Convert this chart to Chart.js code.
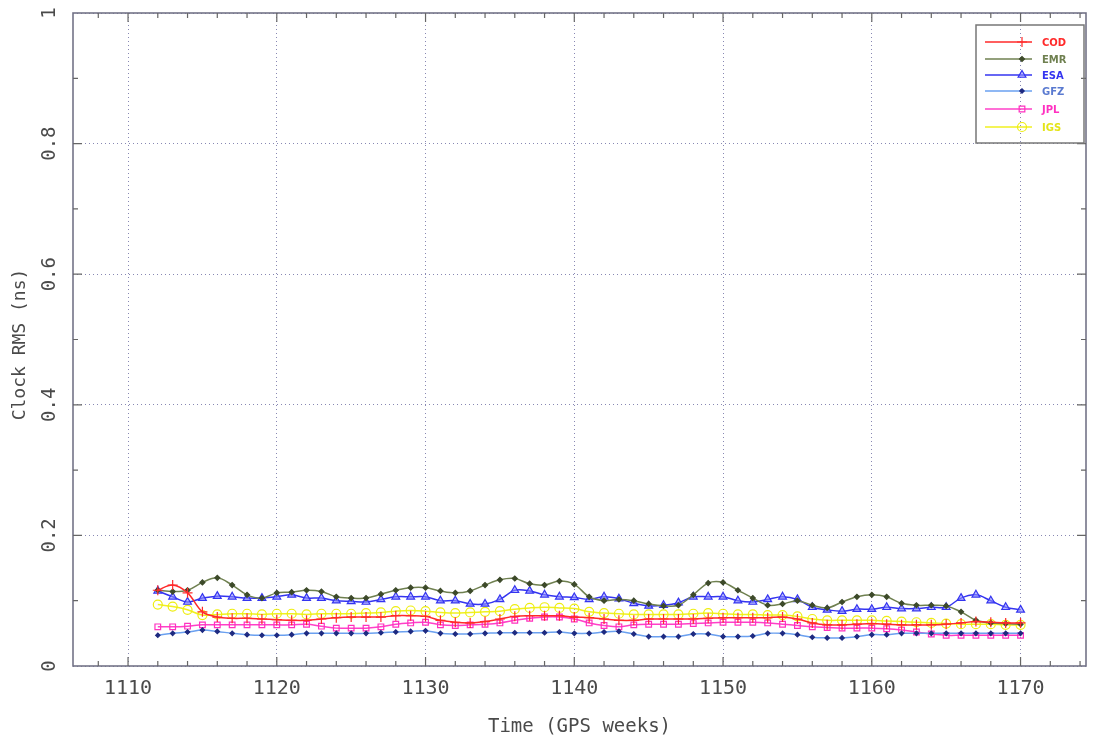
<!DOCTYPE html>
<html>
<head>
<meta charset="utf-8">
<script src="https://cdn.jsdelivr.net/npm/chart.js@4.4.1/dist/chart.umd.min.js"></script>
<style>
html,body{margin:0;padding:0;background:#fff;}
#wrap{width:1096px;height:738px;position:relative;}
</style>
</head>
<body>
<div id="wrap"><canvas id="c" width="1096" height="738"></canvas></div>
<script>
const weeks = [1112,1113,1114,1115,1116,1117,1118,1119,1120,1121,1122,1123,1124,1125,1126,1127,1128,1129,1130,1131,1132,1133,1134,1135,1136,1137,1138,1139,1140,1141,1142,1143,1144,1145,1146,1147,1148,1149,1150,1151,1152,1153,1154,1155,1156,1157,1158,1159,1160,1161,1162,1163,1164,1165,1166,1167,1168,1169,1170];

const cod = [0.116,0.124,0.112,0.083,0.075,0.073,0.073,0.072,0.071,0.070,0.070,0.072,0.074,0.075,0.075,0.075,0.077,0.077,0.076,0.070,0.067,0.066,0.068,0.072,0.076,0.077,0.077,0.077,0.075,0.074,0.072,0.070,0.070,0.072,0.072,0.072,0.072,0.073,0.074,0.074,0.074,0.074,0.075,0.072,0.066,0.063,0.063,0.064,0.065,0.064,0.063,0.063,0.063,0.064,0.066,0.068,0.067,0.066,0.066];
const emr = [0.116,0.114,0.116,0.128,0.135,0.124,0.109,0.104,0.112,0.113,0.116,0.114,0.106,0.104,0.104,0.110,0.116,0.120,0.120,0.115,0.112,0.115,0.124,0.132,0.134,0.126,0.124,0.130,0.125,0.106,0.100,0.102,0.100,0.095,0.092,0.093,0.109,0.127,0.128,0.116,0.104,0.093,0.095,0.100,0.093,0.089,0.098,0.106,0.109,0.106,0.096,0.093,0.093,0.092,0.083,0.070,0.066,0.065,0.064];
const esa = [0.115,0.106,0.098,0.104,0.107,0.106,0.104,0.104,0.106,0.109,0.104,0.104,0.100,0.099,0.098,0.102,0.106,0.106,0.106,0.100,0.100,0.095,0.095,0.102,0.116,0.115,0.109,0.106,0.105,0.102,0.106,0.103,0.096,0.092,0.093,0.097,0.106,0.106,0.106,0.100,0.098,0.102,0.106,0.102,0.090,0.086,0.084,0.087,0.087,0.090,0.088,0.088,0.090,0.090,0.104,0.109,0.100,0.090,0.086];
const gfz = [0.047,0.050,0.052,0.055,0.053,0.050,0.048,0.047,0.047,0.048,0.050,0.050,0.050,0.050,0.050,0.051,0.052,0.053,0.054,0.050,0.049,0.049,0.050,0.051,0.051,0.051,0.051,0.052,0.050,0.050,0.052,0.053,0.049,0.045,0.045,0.045,0.049,0.049,0.045,0.045,0.046,0.050,0.050,0.048,0.044,0.043,0.043,0.045,0.048,0.048,0.050,0.050,0.050,0.050,0.050,0.050,0.050,0.050,0.050];
const jpl = [0.060,0.060,0.061,0.063,0.063,0.063,0.063,0.063,0.063,0.063,0.064,0.061,0.058,0.058,0.058,0.060,0.064,0.066,0.067,0.063,0.062,0.063,0.064,0.066,0.070,0.073,0.075,0.075,0.072,0.066,0.062,0.060,0.063,0.064,0.064,0.064,0.065,0.066,0.067,0.067,0.067,0.066,0.064,0.062,0.060,0.059,0.058,0.058,0.058,0.057,0.055,0.052,0.049,0.047,0.047,0.047,0.047,0.047,0.047];
const igs = [0.094,0.091,0.086,0.078,0.079,0.080,0.080,0.079,0.080,0.080,0.079,0.080,0.080,0.080,0.081,0.082,0.084,0.085,0.084,0.082,0.081,0.082,0.083,0.084,0.087,0.089,0.090,0.089,0.088,0.083,0.081,0.080,0.079,0.079,0.079,0.079,0.080,0.081,0.080,0.079,0.079,0.078,0.078,0.076,0.072,0.070,0.070,0.070,0.070,0.069,0.068,0.067,0.066,0.065,0.064,0.064,0.064,0.063,0.063];

const seriesNames = ['COD','EMR','ESA','GFZ','JPL','IGS'];
const xTicks = [1110,1120,1130,1140,1150,1160,1170];
const yTicks = [0,0.2,0.4,0.6,0.8,1];
const yTickLabels = ['0','0.2','0.4','0.6','0.8','1'];
const xTitle = 'Time (GPS weeks)';
const yTitle = 'Clock RMS (ns)';

const styles = [
  {data:cod, color:'#ff2a2a', pColor:'#ff2a2a', pFill:'#ff2a2a', ps:'cross', r:5, text:'#ff2a2a'},
  {data:emr, color:'#6f8050', pColor:'#3d4a2a', pFill:'#3d4a2a', ps:'rectRot', r:2.5, text:'#6f8050'},
  {data:esa, color:'#3434f0', pColor:'#3434f0', pFill:'rgba(140,140,255,0.6)', ps:'triangle', r:4.5, text:'#3434f0'},
  {data:gfz, color:'#6aa0f0', pColor:'#1e2a80', pFill:'#1e2a80', ps:'rectRot', r:2.2, text:'#5a7ad0'},
  {data:jpl, color:'#ff40c8', pColor:'#ff30c0', pFill:'rgba(255,255,255,0)', ps:'rect', r:4, text:'#ff30c0'},
  {data:igs, color:'#f0f020', pColor:'#eeee10', pFill:'rgba(255,255,255,0)', ps:'circle', r:4.5, text:'#e4e418'}
];

const datasets = styles.map((s,i)=>({
  label: seriesNames[i],
  data: weeks.map((w,k)=>({x:w, y:s.data[k]})),
  borderColor: s.color,
  borderWidth: 1.5,
  pointStyle: s.ps,
  pointRadius: s.r,
  pointBorderColor: s.pColor,
  pointBackgroundColor: s.pFill,
  pointBorderWidth: 1.2,
  tension: 0.35,
  fill: false
}));

const TXT = '#4a4a4a';
const MONO = '"DejaVu Sans Mono", "Liberation Mono", monospace';

const framePlugin = {
  id: 'frame',
  afterDatasetsDraw(chart) {
    const {ctx, chartArea: a, scales} = chart;
    const xs = scales.x, ys = scales.y;
    ctx.save();
    ctx.strokeStyle = '#747488';
    ctx.lineWidth = 1.6;
    ctx.strokeRect(a.left, a.top, a.right - a.left, a.bottom - a.top);
    ctx.lineWidth = 1.2;
    ctx.strokeStyle = '#666';
    for (let w = 1108; w <= 1174; w += 2) {
      const px = xs.getPixelForValue(w);
      const len = (w % 10 === 0) ? 9 : 5;
      ctx.beginPath();
      ctx.moveTo(px, a.bottom); ctx.lineTo(px, a.bottom - len);
      ctx.moveTo(px, a.top); ctx.lineTo(px, a.top + len);
      ctx.stroke();
    }
    for (let k = 1; k < 10; k++) {
      const v = k / 10;
      const py = ys.getPixelForValue(v);
      const len = (k % 2 === 0) ? 9 : 5;
      ctx.beginPath();
      ctx.moveTo(a.left, py); ctx.lineTo(a.left + len, py);
      ctx.moveTo(a.right, py); ctx.lineTo(a.right - len, py);
      ctx.stroke();
    }
    ctx.fillStyle = TXT;
    ctx.font = '19px ' + MONO;
    ctx.textAlign = 'center';
    ctx.textBaseline = 'middle';
    yTicks.forEach((v, i) => {
      const py = ys.getPixelForValue(v);
      ctx.save();
      ctx.translate(a.left - 23, py);
      ctx.rotate(-Math.PI / 2);
      ctx.fillText(yTickLabels[i], 0, 0);
      ctx.restore();
    });
    ctx.save();
    ctx.font = '18px ' + MONO;
    ctx.translate(20, (a.top + a.bottom) / 2 + 5);
    ctx.rotate(-Math.PI / 2);
    ctx.fillText(yTitle, 0, 0);
    ctx.restore();

    // legend
    const lx = 976, ly = 25, lw = 108, lh = 118;
    ctx.strokeStyle = '#777';
    ctx.lineWidth = 1.5;
    ctx.strokeRect(lx, ly, lw, lh);
    const rows = [42, 59, 75, 91, 109, 127];
    ctx.font = 'bold 10px "DejaVu Sans", sans-serif';
    ctx.textAlign = 'left';
    chart.data.datasets.forEach((ds, i) => {
      const y = rows[i];
      ctx.strokeStyle = ds.borderColor;
      ctx.lineWidth = 1.5;
      ctx.beginPath();
      ctx.moveTo(lx + 9, y); ctx.lineTo(lx + 56, y);
      ctx.stroke();
      ctx.fillStyle = ds.pointBackgroundColor;
      ctx.strokeStyle = ds.pointBorderColor;
      ctx.lineWidth = 1.2;
      Chart.helpers.drawPoint(ctx, {pointStyle: ds.pointStyle, radius: ds.pointRadius, rotation: 0, borderWidth: 1.2}, lx + 46, y);
      ctx.fillStyle = styles[i].text;
      ctx.fillText(ds.label, lx + 66, y + 1);
    });
    ctx.restore();
  }
};

new Chart(document.getElementById('c'), {
  type: 'line',
  data: { datasets },
  options: {
    responsive: false,
    animation: false,
    layout: { padding: { top: 13, right: 10, left: 0, bottom: 0 } },
    plugins: { legend: { display: false }, tooltip: { enabled: false } },
    scales: {
      x: {
        type: 'linear',
        min: 1106.3,
        max: 1174.4,
        afterBuildTicks: s => { s.ticks = xTicks.map(v => ({value: v})); },
        grid: { color: 'rgba(130,130,175,0.95)', lineWidth: 1, drawTicks: false },
        border: { display: false, dash: [1, 3] },
        ticks: { color: TXT, font: { family: MONO, size: 20 }, padding: 11, maxRotation: 0, callback: v => String(v) },
        title: { display: true, text: xTitle, color: TXT, font: { family: MONO, size: 19 }, padding: { top: 6, bottom: 0 } },
        afterFit: s => { s.height = 72; }
      },
      y: {
        type: 'linear',
        min: 0,
        max: 1,
        afterBuildTicks: s => { s.ticks = yTicks.map(v => ({value: v})); },
        grid: { color: 'rgba(130,130,175,0.95)', lineWidth: 1, drawTicks: false },
        border: { display: false, dash: [1, 3] },
        ticks: { display: false },
        afterFit: s => { s.width = 73; }
      }
    }
  },
  plugins: [framePlugin]
});
</script>
</body>
</html>
